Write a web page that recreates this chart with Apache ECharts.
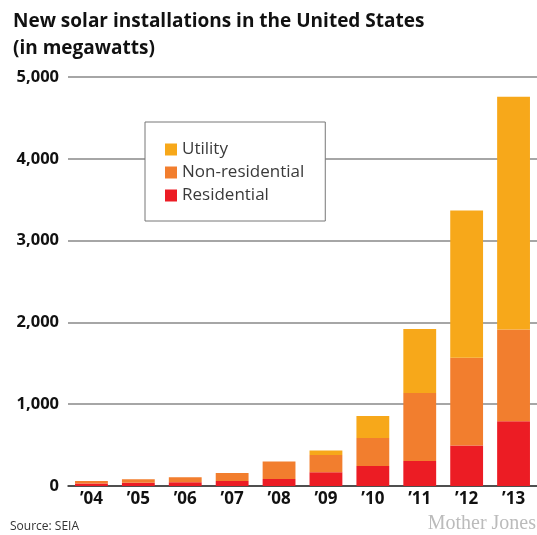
<!DOCTYPE html>
<html>
<head>
<meta charset="utf-8">
<script src="https://cdn.jsdelivr.net/npm/echarts@6/dist/echarts.min.js"></script>
<style>
html,body{margin:0;padding:0;background:#fff;}
#c{width:537px;height:535px;}
</style>
</head>
<body>
<div id="c"></div>
<script>
var categories = ["\u201904","\u201905","\u201906","\u201907","\u201908","\u201909","\u201910","\u201911","\u201912","\u201913"];
var residential = [32, 40, 47, 60, 85, 168, 246, 306, 494, 792];
var nonResidential = [28, 43, 60, 100, 215, 212, 340, 830, 1074, 1122];
var utility = [0, 0, 0, 0, 0, 55, 270, 783, 1801, 2845];
var yTicks = [0, 1000, 2000, 3000, 4000, 5000];

var FONT = 'Open Sans';
var chart = echarts.init(document.getElementById('c'), null, {renderer: 'canvas'});
chart.setOption({
  backgroundColor: '#fff',
  animation: false,
  title: {
    text: 'New solar installations in the United States\n(in megawatts)',
    left: 8, top: 3,
    textStyle: {fontFamily: FONT, fontWeight: 'bold', fontSize: 19, lineHeight: 27, color: '#111'}
  },
  legend: {
    orient: 'vertical',
    left: 145, top: 122,
    data: ['Utility', 'Non-residential', 'Residential'],
    icon: 'rect', itemWidth: 12, itemHeight: 12, itemGap: 6, itemStyle: {borderWidth: 0},
    padding: [19, 21, 17, 20],
    borderColor: '#777', borderWidth: 1, backgroundColor: '#fff',
    textStyle: {fontFamily: FONT, fontSize: 17, color: '#3a3a3a', lineHeight: 17}
  },
  grid: {left: 68, top: 77, bottom: 49, right: -3, containLabel: false},
  xAxis: {
    type: 'category', data: categories,
    axisLine: {lineStyle: {color: '#333', width: 1.5}},
    axisTick: {show: false},
    axisLabel: {fontFamily: FONT, fontWeight: 'bold', fontSize: 17, color: '#111', margin: 5, interval: 0}
  },
  yAxis: {
    type: 'value', min: yTicks[0], max: yTicks[yTicks.length-1], interval: 1000,
    axisLine: {show: false}, axisTick: {show: false},
    splitLine: {lineStyle: {color: '#888', width: 1.5}},
    axisLabel: {fontFamily: FONT, fontWeight: 'bold', fontSize: 16.5, color: '#111', margin: 9,
      formatter: function(v){ return v.toLocaleString('en-US'); }}
  },
  series: [
    {name: 'Residential', type: 'bar', stack: 's', data: residential, barWidth: '70%', itemStyle: {color: '#EC1C24'}},
    {name: 'Non-residential', type: 'bar', stack: 's', data: nonResidential, barWidth: '70%', itemStyle: {color: '#F27E2E'}},
    {name: 'Utility', type: 'bar', stack: 's', data: utility, barWidth: '70%', itemStyle: {color: '#F7A81A'}}
  ],
  graphic: [
    {type: 'text', left: 10, top: 521, style: {text: 'Source: SEIA', fontFamily: FONT, fontSize: 12, fill: '#333'}},
    {type: 'text', right: 1, top: 514, style: {text: 'Mother Jones', fontFamily: 'Liberation Serif', fontSize: 20, fill: '#bbb'}}
  ]
});
</script>
</body>
</html>
